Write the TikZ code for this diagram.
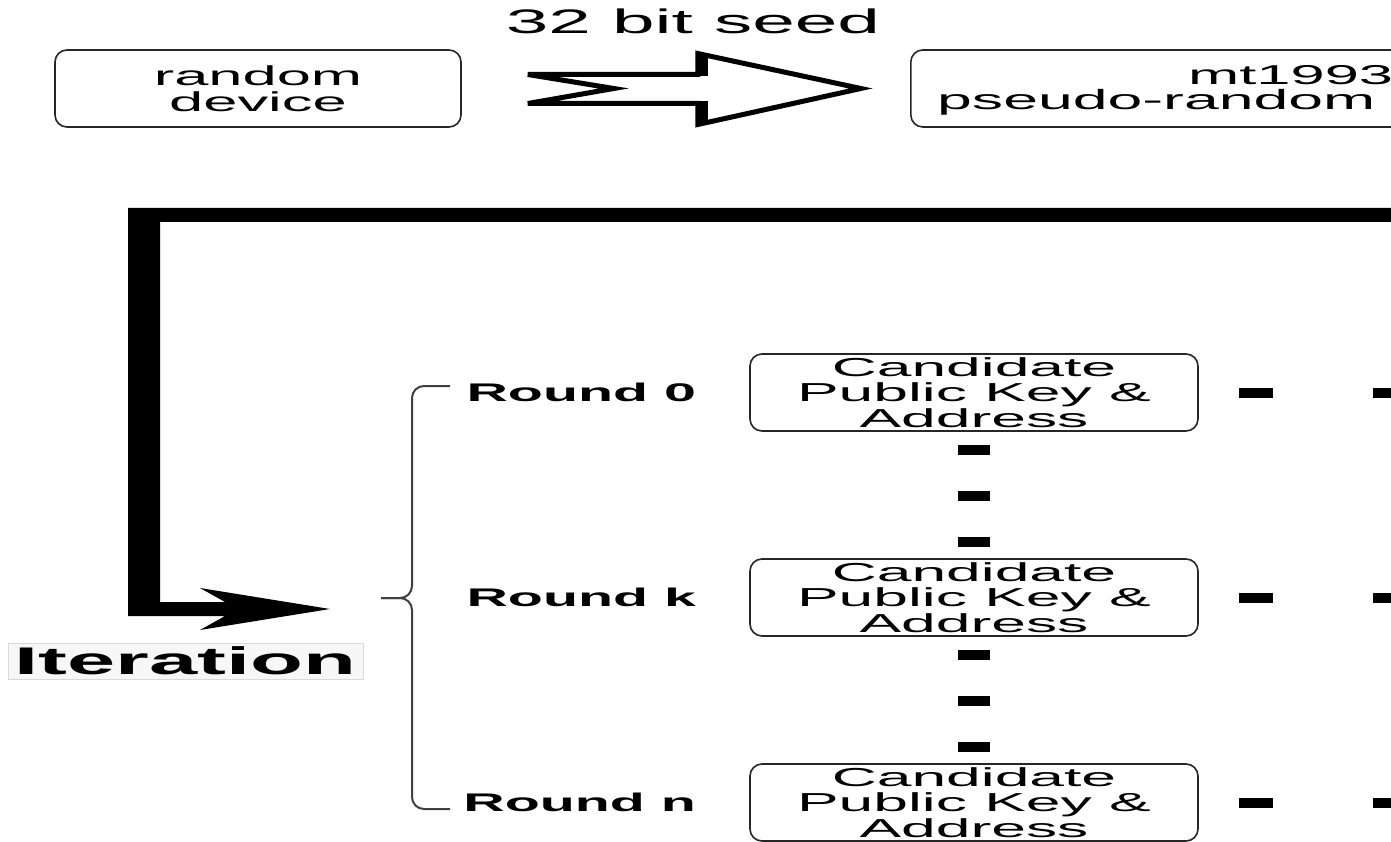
\documentclass[tikz,border=0pt]{standalone}
\usepackage{fontspec}
\setmainfont{Liberation Sans}[FakeStretch=2.25]
\newfontfamily\candfont{Liberation Sans}[FakeStretch=2.4]
\usetikzlibrary{positioning}
\tikzset{
  box/.style={draw=black!85, line width=1.6pt, rounded corners=12pt, inner sep=0pt},
  cand/.style={box, minimum width=448pt, minimum height=77pt, align=center,
    font=\candfont\fontsize{26}{25.5}\selectfont},
  rlabel/.style={inner sep=0pt, font=\fontsize{25.5}{25}\selectfont\bfseries},
  hdash/.style={line width=10pt, dash pattern=on 34pt off 100pt, dash phase=94pt},
  vdash/.style={line width=32pt, dash pattern=on 10pt off 36pt, dash phase=33pt},
}
\begin{document}
\begin{tikzpicture}[x=1pt,y=-1pt]
  \useasboundingbox (0,0) rectangle (1391,842);
  \clip (0,0) rectangle (1391,842);

  % seed source and generator
  \node[box, minimum width=406pt, minimum height=77pt, align=center,
    font=\fontsize{27.3}{25.5}\selectfont] (rd) at (258,88.5) {random\\device};
  \node[box, minimum width=800pt, minimum height=77pt, anchor=west] (mt) at (910,88.5) {};
  \node[anchor=base west, inner sep=0pt, font=\fontsize{27.3}{25}\selectfont]
    (mtlbl) at (1188,85) {mt1993};
  \node[anchor=base west, inner sep=0pt, font=\fontsize{27.8}{25}\selectfont]
    (mtsub) at (937,110) {pseudo-random};

  % hollow arrow
  \path (rd.east) ++(66,0) coordinate (s0);
  \draw[line width=5pt, line join=miter] (s0) ++(0,-14) -- ++(170,0) -- ++(0,-21)
    -- ++(163,35) -- ++(-163,36) -- ++(0,-21) -- ++(-170,0) -- ++(86,-15) -- cycle;
  \fill (s0) ++(168,-35.5) rectangle ++(12,23);
  \fill (s0) ++(168,12.5) rectangle ++(12,23);
  \node[inner sep=0pt, font=\fontsize{34}{34}\selectfont] (seed) at (693,21.5) {32 bit seed};

  % loop back
  \coordinate (tip) at (330,609);
  \fill (1400,208) -- (128,208) -- (128,616) -- (225,616) -- (200,630) -- (tip)
    -- (200,588) -- (225,602) -- (160,602) -- (160,222) -- (1400,222) -- cycle;
  \node[draw=black!15, fill=black!3, line width=1pt, minimum width=355pt,
    minimum height=36pt, inner sep=0pt, font=\fontsize{38.5}{38}\selectfont\bfseries]
    (iter) at (185.5,661) {Iteration};

  % rounds
  \foreach \r/\y in {0/392.5,k/597.5,n/802.5} {
    \node[cand] (c\r) at (974,\y) {Candidate\\Public Key \&\\Address};
    \node[rlabel, left=53pt of c\r] (r\r) {Round \r};
    \draw[hdash] (c\r.east) -- ++(260,0);
  }
  \draw[vdash] (c0.south) -- (ck.north);
  \draw[vdash] (ck.south) -- (cn.north);

  % brace
  \draw[line width=2pt, black!75, rounded corners=12pt]
    (450,386) -- (412,386) -- (412,598) -- (381,598);
  \draw[line width=2pt, black!75, rounded corners=12pt]
    (381,598) -- (412,598) -- (412,809) -- (450,809);
\end{tikzpicture}
\end{document}
